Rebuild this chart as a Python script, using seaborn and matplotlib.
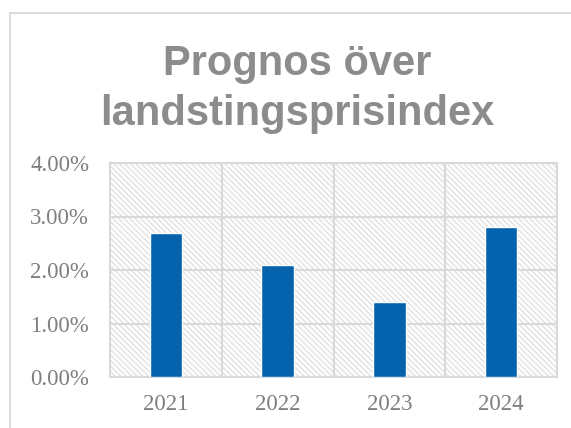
import matplotlib
matplotlib.use("Agg")

import numpy as np
import pandas as pd
import matplotlib.pyplot as plt
import seaborn as sns
from matplotlib.patches import Rectangle
from matplotlib.ticker import FuncFormatter, FixedLocator

# ------------------------------------------------------------
# data
# ------------------------------------------------------------
years = ["2021", "2022", "2023", "2024"]
index_pct = [2.7, 2.1, 1.4, 2.8]
yticks = [0, 1, 2, 3, 4]

df = pd.DataFrame({"Year": years, "Index": index_pct})

# ------------------------------------------------------------
# style
# ------------------------------------------------------------
sns.set_style("white")
plt.rcParams["font.family"] = ["Liberation Serif", "DejaVu Serif"]
plt.rcParams["hatch.color"] = "#e3e3e3"
plt.rcParams["hatch.linewidth"] = 1.1

GRID = "#d9d9d9"
TEXT = "#7f7f7f"
TITLE = "#8c8c8c"
BAR = "#0563ad"

fig = plt.figure(figsize=(5.71, 4.28), dpi=100)
fig.patch.set_facecolor("white")

# chart frame (only left and top edges show in the crop)
fig.add_artist(Rectangle((10 / 571, -0.1), 1.2, 1 - 13 / 428 + 0.1,
                         transform=fig.transFigure, facecolor="none",
                         edgecolor=GRID, linewidth=1.3, zorder=0))

ax = fig.add_axes([110 / 571, 1 - 377 / 428, (557 - 110) / 571, (377 - 163) / 428])

# hatched plot area
ax.add_patch(Rectangle((0, 0), 1, 1, transform=ax.transAxes, facecolor="white",
                       edgecolor="#e3e3e3", linewidth=0, hatch="\\\\\\\\\\\\", zorder=0))

sns.barplot(data=df, x="Year", y="Index", color=BAR, width=0.29,
            saturation=1, ax=ax, zorder=3)

ax.set_ylim(0, 4)
ax.set_xlim(-0.5, len(years) - 0.5)
ax.set_yticks(yticks)
ax.yaxis.set_major_formatter(FuncFormatter(lambda v, _: f"{v:.2f}%"))
ax.xaxis.set_minor_locator(FixedLocator(np.arange(1, len(years)) - 0.5))

ax.grid(axis="y", which="major", color=GRID, linewidth=1.5, zorder=1)
ax.grid(axis="x", which="minor", color=GRID, linewidth=1.5, zorder=1)
ax.set_axisbelow(True)

for s in ax.spines.values():
    s.set_visible(True)
    s.set_color(GRID)
    s.set_linewidth(1.5)

ax.tick_params(axis="both", which="both", length=0, labelsize=16.5, labelcolor=TEXT)
ax.tick_params(axis="x", pad=12)
ax.tick_params(axis="y", pad=15)
ax.set_xlabel("")
ax.set_ylabel("")

fig.text(297.5 / 571, 1 - 44 / 428, "Prognos över\nlandstingsprisindex",
         ha="center", va="top", fontsize=30, fontweight="bold", color=TITLE,
         family=["Liberation Sans", "DejaVu Sans"], linespacing=1.33)

fig.savefig("out.png", dpi=100)
